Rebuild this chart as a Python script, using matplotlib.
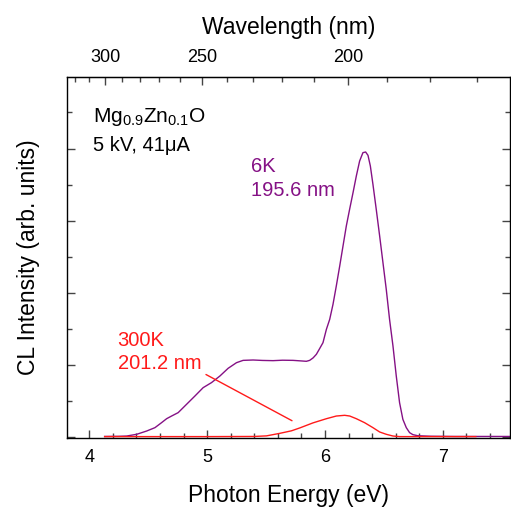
import matplotlib
matplotlib.use('Agg')
import matplotlib.pyplot as plt
import matplotlib.ticker as mticker

plt.rcParams['font.family'] = ['Liberation Sans', 'DejaVu Sans']
plt.rcParams['mathtext.fontset'] = 'custom'
plt.rcParams['mathtext.rm'] = 'Liberation Sans'
plt.rcParams['mathtext.it'] = 'Liberation Sans:italic'

# 6K spectrum (photon energy eV, intensity arb. units)
energy_6k = [4.13, 4.25, 4.317, 4.402, 4.486, 4.557, 4.613, 4.656, 4.698,
             4.754, 4.825, 4.896, 4.966, 5.037, 5.108, 5.178, 5.249, 5.305,
             5.39, 5.47, 5.559, 5.64, 5.729, 5.80, 5.842, 5.87, 5.899, 5.927,
             5.955, 5.983, 6.012, 6.04, 6.068, 6.096, 6.125, 6.153, 6.181,
             6.209, 6.238, 6.266, 6.294, 6.322, 6.345, 6.365, 6.385, 6.407,
             6.435, 6.464, 6.492, 6.52, 6.548, 6.577, 6.605, 6.633, 6.661,
             6.69, 6.718, 6.746, 6.788, 6.90, 7.10, 7.30, 7.57]
intens_6k = [0.012, 0.014, 0.018, 0.042, 0.087, 0.134, 0.203, 0.258, 0.295,
             0.342, 0.457, 0.572, 0.688, 0.758, 0.849, 0.956, 1.034, 1.066,
             1.071, 1.065, 1.062, 1.068, 1.066, 1.058, 1.053, 1.066, 1.10,
             1.15, 1.23, 1.311, 1.496, 1.634, 1.842, 2.096, 2.373, 2.65,
             2.927, 3.158, 3.389, 3.62, 3.827, 3.943, 3.952, 3.906, 3.758,
             3.504, 3.158, 2.788, 2.419, 2.05, 1.634, 1.265, 0.849, 0.48,
             0.249, 0.134, 0.065, 0.037, 0.022, 0.015, 0.012, 0.012, 0.012]

# 300K spectrum
energy_300k = [4.13, 4.60, 5.00, 5.40, 5.503, 5.616, 5.715, 5.786, 5.898,
               6.012, 6.096, 6.167, 6.21, 6.266, 6.336, 6.407, 6.464, 6.52,
               6.577, 6.633, 6.75, 7.00, 7.28]
intens_300k = [0.01, 0.01, 0.01, 0.012, 0.02, 0.055, 0.09, 0.13, 0.20,
               0.258, 0.295, 0.305, 0.295, 0.258, 0.203, 0.134, 0.074, 0.042,
               0.018, 0.01, 0.01, 0.01, 0.01]

# annotation line for the 300K label
pointer_from = (4.99, 0.87)
pointer_to = (5.72, 0.23)

wl_major = [300, 250, 200]
wl_minor = list(range(170, 330, 10))

purple = '#851185'
red = '#ff1a1a'


def ev2nm(e):
    return 1239.84 / e


fig = plt.figure(figsize=(5.11, 5.07), dpi=100)
ax = fig.add_axes([0.131, 0.136, 0.867, 0.712])

ax.plot(energy_6k, intens_6k, color=purple, lw=1.0)
ax.plot(energy_300k, intens_300k, color=red, lw=1.0)
ax.annotate('', xy=pointer_to, xytext=pointer_from,
            arrowprops=dict(arrowstyle='-', color=red, lw=1.0,
                            shrinkA=0, shrinkB=0))

ax.set_xlim(3.81, 7.57)
ax.set_ylim(-0.01, 4.99)
ax.xaxis.set_major_locator(mticker.MultipleLocator(1))
ax.xaxis.set_minor_locator(mticker.MultipleLocator(0.2))
ax.yaxis.set_major_locator(mticker.MultipleLocator(1))
ax.yaxis.set_minor_locator(mticker.MultipleLocator(0.5))
ax.tick_params(which='both', direction='in', top=False, right=True,
               color='#444444', width=1.0)
ax.tick_params(which='major', length=6, labelsize=13, pad=8)
ax.tick_params(which='minor', length=3.5)
ax.tick_params(axis='y', labelleft=False)
ax.set_xlabel('Photon Energy (eV)', fontsize=16.5, labelpad=13)
ax.set_ylabel('CL Intensity (arb. units)', fontsize=16.5, labelpad=16)
for s in ax.spines.values():
    s.set_linewidth(1.0)

top = ax.secondary_xaxis('top', functions=(ev2nm, ev2nm))
top.set_xticks(wl_major)
top.set_xticks(wl_minor, minor=True)
top.tick_params(which='both', direction='in', color='#444444', width=1.0)
top.tick_params(which='major', length=6, labelsize=13, pad=8)
top.tick_params(which='minor', length=3.5)
top.set_xlabel('Wavelength (nm)', fontsize=16.5, labelpad=11)

ax.text(4.03, 4.37, r'Mg$_\mathrm{0.9}$Zn$_\mathrm{0.1}$O', fontsize=15)
ax.text(4.03, 3.96, '5 kV, 41μA', fontsize=14.5)
ax.text(5.37, 3.67, '6K', fontsize=14.5, color=purple)
ax.text(5.37, 3.34, '195.6 nm', fontsize=14.5, color=purple)
ax.text(4.24, 1.27, '300K', fontsize=14.5, color=red)
ax.text(4.24, 0.94, '201.2 nm', fontsize=14.5, color=red)

fig.savefig('out.png', dpi=100)
